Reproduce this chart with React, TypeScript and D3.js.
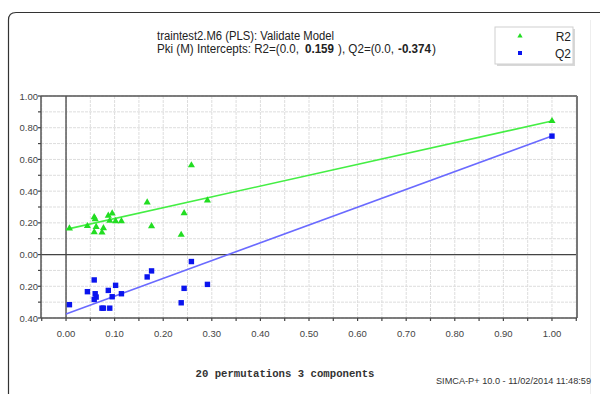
import React from "react";
import * as d3 from "d3";

// permutation correlation (x) shared by both series
const permCorr = [0.007, 0.044, 0.058, 0.06, 0.062, 0.058, 0.074, 0.077, 0.087, 0.095, 0.09, 0.102, 0.114, 0.167, 0.176, 0.258, 0.243, 0.237, 0.291, 1.0];
const r2Values = [0.165, 0.18, 0.236, 0.223, 0.175, 0.141, 0.139, 0.167, 0.245, 0.26, 0.213, 0.211, 0.211, 0.329, 0.179, 0.563, 0.261, 0.125, 0.342, 0.842];
const q2Values = [-0.316, -0.234, -0.16, -0.247, -0.268, -0.283, -0.338, -0.338, -0.226, -0.266, -0.338, -0.194, -0.247, -0.141, -0.103, -0.044, -0.213, -0.304, -0.188, 0.747];
const r2Line = [[0, 0.159], [1.0, 0.842]];
const q2Line = [[0, -0.374], [1.0, 0.747]];
const xTickValues = [0, 0.1, 0.2, 0.3, 0.4, 0.5, 0.6, 0.7, 0.8, 0.9, 1.0];
const xTickLabels = ["0.00", "0.10", "0.20", "0.30", "0.40", "0.50", "0.60", "0.70", "0.80", "0.90", "1.00"];
const yTickValues = [-0.4, -0.2, 0, 0.2, 0.4, 0.6, 0.8, 1.0];
const yTickLabels = ["0.40", "0.20", "0.00", "0.20", "0.40", "0.60", "0.80", "1.00"];
const titleLine1 = "traintest2.M6 (PLS): Validate Model";
// second title line pieces: [text, bold, x-start, width]
const titleLine2 = [
  ["Pki (M) Intercepts: R2=(0.0,", false, 157, 142],
  ["0.159", true, 305, 29],
  ["), Q2=(0.0,", false, 338, 56],
  ["-0.374", true, 398, 33],
  [")", false, 432, 4],
];
const footerText = "20 permutations 3 components";
const stampText = "SIMCA-P+ 10.0 - 11/02/2014 11:48:59";
const legendLabels = ["R2", "Q2"];

const W = 600;
const H = 394;
const plot = { left: 41, right: 577, top: 96, bottom: 318 };

export default function App() {
  const x = d3.scaleLinear().domain([-0.0515, 1.0515]).range([plot.left, plot.right]);
  const y = d3.scaleLinear().domain([-0.4, 1.0]).range([plot.bottom, plot.top]);
  const xMinor = d3.range(-0.05, 1.0501, 0.05);
  const yMinor = d3.range(-0.4, 1.0001, 0.1);
  const line = d3.line<number[]>().x((d) => x(d[0])).y((d) => y(d[1]));
  const tri = d3.symbol().type(d3.symbolTriangle).size(22)();
  const triSmall = d3.symbol().type(d3.symbolTriangle).size(12)();
  const green = "#22dd22";
  const blue = "#0a14ee";
  const font = "Liberation Sans, Arial, sans-serif";

  return (
    <svg
      width={W}
      height={H}
      style={{ position: "absolute", left: 0, top: 0, background: "#fff" }}
    >
      {/* card frame */}
      <path d={`M8.5,${H + 2} L8.5,20 Q8.5,12.5 16,12.5 L${W + 2},12.5`} fill="none" stroke="#333" strokeWidth={1.2} />
      <line x1={590.5} x2={590.5} y1={20} y2={H} stroke="#eeeeee" strokeWidth={1} />

      {/* title */}
      <text x={157} y={40} fontFamily={font} fontSize={12} fill="#222" textLength={177} lengthAdjust="spacingAndGlyphs">
        {titleLine1}
      </text>
      {titleLine2.map((p, i) => (
        <text
          key={"t2" + i}
          x={p[2] as number}
          y={53}
          fontFamily={font}
          fontSize={12}
          fontWeight={p[1] ? "bold" : "normal"}
          fill="#222"
          textLength={p[3] as number}
          lengthAdjust="spacingAndGlyphs"
        >
          {p[0] as string}
        </text>
      ))}

      {/* legend */}
      <rect x={497} y={29} width={78} height={37} fill="#d8d8d8" />
      <rect x={495} y={27} width={78} height={37} fill="#fff" stroke="#cfcfcf" strokeWidth={1} />
      <path d={triSmall} transform={`translate(520,36)`} fill={green} />
      <rect x={518} y={51} width={4} height={4} fill={blue} />
      <text x={571} y={41} textAnchor="end" fontFamily={font} fontSize={12} fill="#222">{legendLabels[0]}</text>
      <text x={571} y={57.5} textAnchor="end" fontFamily={font} fontSize={12} fill="#222">{legendLabels[1]}</text>

      {/* grid */}
      {xMinor.map((v, i) => (
        <line key={"gx" + i} x1={x(v)} x2={x(v)} y1={plot.top} y2={plot.bottom} stroke="#dddddd" strokeWidth={1} strokeDasharray="3,1" />
      ))}
      {yMinor.map((v, i) => (
        <line key={"gy" + i} x1={plot.left} x2={plot.right} y1={y(v)} y2={y(v)} stroke="#dddddd" strokeWidth={1} strokeDasharray="3,1" />
      ))}

      {/* zero lines */}
      <line x1={plot.left} x2={plot.right} y1={y(0)} y2={y(0)} stroke="#444" strokeWidth={1.3} />
      <line x1={x(0)} x2={x(0)} y1={plot.top} y2={plot.bottom} stroke="#444" strokeWidth={1.3} />

      {/* frame */}
      <line x1={plot.left} x2={plot.right} y1={plot.top} y2={plot.top} stroke="#555" strokeWidth={1.5} />
      <line x1={plot.right} x2={plot.right} y1={plot.top} y2={plot.bottom} stroke="#777" strokeWidth={2} />
      <line x1={plot.left} x2={plot.right} y1={plot.bottom} y2={plot.bottom} stroke="#555" strokeWidth={1.5} />
      <line x1={plot.left} x2={plot.left} y1={plot.top} y2={plot.bottom} stroke="#555" strokeWidth={1.5} />

      {/* y ticks */}
      {yMinor.map((v, i) => (
        <line key={"ty" + i} x1={plot.left - 3} x2={plot.left} y1={y(v)} y2={y(v)} stroke="#444" strokeWidth={1.2} />
      ))}
      {yTickValues.map((v, i) => (
        <text key={"ly" + i} x={plot.left - 3} y={y(v) + 3.5} textAnchor="end" fontFamily={font} fontSize={9.5} fill="#444">
          {yTickLabels[i]}
        </text>
      ))}

      {/* x ticks */}
      {xMinor.map((v, i) => (
        <line key={"tx" + i} x1={x(v)} x2={x(v)} y1={plot.bottom} y2={plot.bottom + 3} stroke="#444" strokeWidth={1.2} />
      ))}
      {xTickValues.map((v, i) => (
        <text key={"lx" + i} x={x(v)} y={337} textAnchor="middle" fontFamily={font} fontSize={9.5} fill="#444">
          {xTickLabels[i]}
        </text>
      ))}

      {/* regression lines */}
      <path d={line(r2Line) || ""} fill="none" stroke="#44ee44" strokeWidth={1.6} />
      <path d={line(q2Line) || ""} fill="none" stroke="#6a6aff" strokeWidth={1.6} />

      {/* points */}
      {permCorr.map((v, i) => (
        <path key={"r" + i} d={tri} transform={`translate(${x(v)},${y(r2Values[i])})`} fill={green} />
      ))}
      {permCorr.map((v, i) => (
        <rect key={"q" + i} x={x(v) - 2.7} y={y(q2Values[i]) - 2.7} width={5.4} height={5.4} fill={blue} />
      ))}

      {/* footer */}
      <text x={285} y={377} textAnchor="middle" fontFamily="Liberation Mono, Courier New, monospace" fontSize={10.5} fontWeight="bold" fill="#333" textLength={179} lengthAdjust="spacingAndGlyphs">
        {footerText}
      </text>
      <text x={436} y={384} fontFamily={font} fontSize={8.5} fill="#333" textLength={155} lengthAdjust="spacingAndGlyphs">
        {stampText}
      </text>
    </svg>
  );
}
